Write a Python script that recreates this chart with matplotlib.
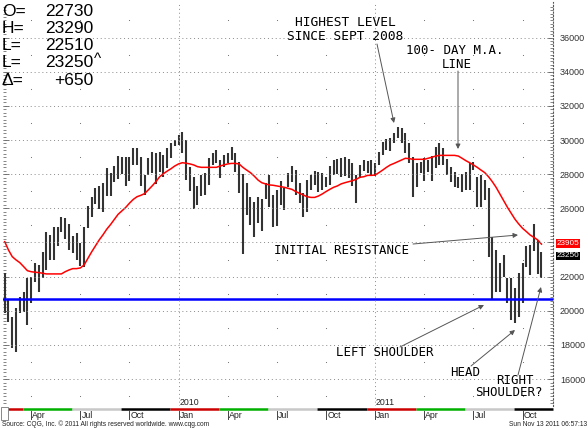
import numpy as np
import pandas as pd
import matplotlib
matplotlib.use('Agg')
import matplotlib.pyplot as plt
import matplotlib.dates as mdates
from matplotlib.transforms import blended_transform_factory
from matplotlib.patches import Rectangle

plt.rcParams['font.family'] = ['Liberation Sans', 'DejaVu Sans']

# weekly bars, first week 16 Feb 2009
week0 = '2009-02-16'
highs = [22200, 20670, 19620, 20190, 20830, 21080, 21900, 22000, 22780, 22680, 23460, 24630,
         24440, 24930, 24930, 25470, 25420, 25080, 24380, 24540, 23990, 24930, 26140, 26680,
         27170, 27310, 27500, 28340, 28050, 28480, 29060, 28990, 29020, 29020, 29510, 29510,
         29000, 27950, 28930, 29320, 29220, 29320, 29120, 29510, 29800, 30000, 30290, 30490, 30000,
         28440, 27850, 27310, 27950, 28050, 28930, 29260, 29420, 28830, 29120, 29220, 29570,
         29260, 28730, 28000, 27460, 26640, 26390, 26640, 26530, 27460, 27950, 26780, 27070,
         27620, 27170, 28090, 28480, 28240, 27500, 26880, 27660, 27950, 28200, 28150, 28050,
         27850, 28480, 28830, 28870, 28930, 28990, 28870, 28630, 27950, 28540, 28830, 28790, 28830,
         28630, 29320, 29900, 30040, 30100, 30430, 30780, 30680, 30390, 29800, 29020, 28630,
         28730, 28930, 28830, 29060, 29570, 29800, 29510, 28870, 28440, 28150, 27850, 28010, 28150,
         28630, 28730, 27850, 27950, 27660, 27170, 24340, 23560, 22780, 23270, 21900, 21900,
         21320, 22200, 22780, 23770, 23830, 25080, 24120, 23460]
lows = [19890, 19350, 17850, 17610, 19850, 19950, 19170, 20440, 21710, 21120, 21900, 22390,
        22980, 22980, 23800, 24630, 24190, 23560, 23370, 22980, 22620, 22590, 24830, 25510,
        26250, 25980, 25810, 26720, 26720, 27560, 27700, 28010, 27310, 27620, 28540, 28540,
        27300, 26780, 27950, 28090, 27430, 28150, 27850, 28340, 28930, 29650, 29710, 29260, 27660,
        27000, 25940, 26200, 26720, 26780, 27370, 28540, 28630, 27760, 28440, 28630, 28830,
        28150, 26880, 23330, 25610, 25030, 24340, 25120, 24690, 26530, 26100, 24930, 24970,
        26200, 25900, 27270, 27560, 26780, 26330, 25510, 25810, 27070, 27370, 26980, 27070,
        27230, 27370, 27950, 28010, 27850, 27890, 27760, 27310, 26330, 27760, 28200, 28090, 27930,
        27890, 28540, 29120, 29420, 29380, 29800, 30100, 29800, 29220, 28630, 26640, 27270,
        28050, 27620, 28150, 27620, 28340, 28540, 28540, 27950, 27560, 27270, 27170, 26980, 27070,
        27070, 28240, 26100, 26100, 26490, 23170, 20690, 21120, 21120, 22000, 20440, 19470,
        19270, 19660, 20440, 22560, 22100, 23500, 22150, 21900]
# 100-day moving average
ma100 = [24050, 23560, 23170, 22980, 22820, 22590, 22350, 22290, 22260, 22240, 22200, 22160,
         22160, 22160, 22160, 22160, 22290, 22390, 22470, 22470, 22510, 22680, 23070, 23450,
         23800, 24150, 24450, 24780, 25050, 25350, 25650, 25850, 26050, 26300, 26520, 26680,
         26760, 26860, 27080, 27310, 27560, 27850, 28030, 28180, 28320, 28480, 28600, 28670, 28640,
         28600, 28540, 28440, 28400, 28400, 28400, 28400, 28400, 28480, 28540, 28600, 28630,
         28630, 28600, 28400, 28240, 28090, 27890, 27660, 27500, 27430, 27370, 27350, 27310,
         27270, 27230, 27170, 27110, 26980, 26880, 26780, 26680, 26640, 26640, 26720, 26840,
         26980, 27110, 27230, 27310, 27430, 27500, 27560, 27620, 27700, 27820, 27850, 27930, 27930,
         27950, 28090, 28240, 28400, 28540, 28630, 28730, 28830, 28930, 28910, 28870, 28870,
         28870, 28870, 28930, 28990, 29060, 29100, 29100, 29100, 29100, 29100, 29060, 28930, 28790,
         28670, 28540, 28400, 28240, 28090, 27850, 27560, 27230, 26840, 26450, 26060, 25710,
         25360, 25080, 24830, 24640, 24440, 24300, 24150, 23905]
support = 20700
last_close = 23250
last_ma = 23905
header_names = ['O=', 'H=', 'L=', 'L=', 'Δ=']
header_values = ['22730', '23290', '22510', '23250', '+650']
price_ticks = list(range(16000, 38000, 2000))
month_names = {1: 'Jan', 4: 'Apr', 7: 'Jul', 10: 'Oct'}
band_colors = {1: '#cc0000', 4: '#00b000', 7: '#c8c8c8', 10: '#000000'}

W, H = 588, 428
fig = plt.figure(figsize=(W / 100, H / 100), dpi=100)
ax = fig.add_axes([3 / W, (H - 406) / H, 550 / W, 404 / H])

dates = pd.date_range(week0, periods=len(highs), freq='7D')
dnum = mdates.date2num(dates)

ax.vlines(dnum, lows, highs, color='#333333', lw=1.5)
ax.plot(dnum, ma100, color='#ff0000', lw=1.1)
ax.axhline(support, color='#0000ff', lw=1.8)

day_px = 7 / 3.78
ax.set_xlim(dnum[0] - 1.7 * day_px, dnum[0] + 548.3 * day_px)
ax.set_ylim(14428, 38079)

# grid
for v in price_ticks:
    ax.axhline(v, color='#8a8a8a', lw=0.7, ls=(0, (1, 3)))
qt = [d for k, d in enumerate(dnum) if dates[k].month in month_names
      and (k == 0 or dates[k - 1].month != dates[k].month)]
qmonths = [dates[k].month for k, d in enumerate(dnum) if d in qt]
for d, m in zip(qt, qmonths):
    if m == 1:
        ax.axvline(d, color='#8a8a8a', lw=0.7, ls=(0, (1, 3)))
    else:
        ax.scatter([d] * 12, range(15000, 39000, 2000), s=0.6, color='#666666', lw=0)

for s in ['top', 'bottom', 'left']:
    ax.spines[s].set_visible(False)
ax.spines['right'].set_linestyle((0, (1, 2)))
ax.spines['right'].set_color('#555555')
ax.spines['right'].set_linewidth(0.8)

ax.yaxis.tick_right()
# 24000 sits under the last-value tags, as in the source chart
ax.set_yticks(price_ticks, ['' if v == 24000 else str(v) for v in price_ticks])
ax.set_yticks(range(14600, 38000, 200), minor=True)
ax.tick_params(axis='y', which='both', left=True, right=True, labelleft=False, labelright=True,
               direction='in', colors='#555555', labelcolor='#333333', labelsize=6.5, pad=5)
ax.tick_params(axis='y', which='major', length=4, width=0.6)
ax.tick_params(axis='y', which='minor', length=2.5, width=0.5)
ax.set_xticks([])

# time band and labels
tr = blended_transform_factory(ax.transData, ax.transAxes)
bounds = [dnum[0] + 3 * day_px] + [d - 16 for d in qt] + [ax.get_xlim()[1]]
seg_months = [1] + qmonths
for k in range(len(bounds) - 1):
    ax.plot([bounds[k], bounds[k + 1]], [-0.0075, -0.0075], transform=tr, clip_on=False,
            color=band_colors[seg_months[k]], lw=1.8, solid_capstyle='butt')
for d, m in zip(qt, qmonths):
    ax.plot([d, d], [-0.012, -0.033], transform=tr, clip_on=False, color='#444444', lw=0.7)
    ax.text(d + 1.2 * day_px, -0.0225, month_names[m], transform=tr, fontsize=6.3,
            va='center', ha='left', color='#222222')
    if m == 1:
        ax.text(d + 0.8 * day_px, 0.008, str(dates[list(dnum).index(d)].year), transform=tr,
                fontsize=6.3, va='center', ha='left', color='#222222')

fig.patches.append(Rectangle((1 / W, (H - 420) / H), 7 / W, 13 / H, transform=fig.transFigure,
                             fill=False, ec='#888888', lw=0.7))

# last value tags
tr2 = blended_transform_factory(ax.transAxes, ax.transData)
ax.text(1.006, last_ma + 30, str(last_ma), transform=tr2, color='white', fontsize=5.9,
        va='center', bbox=dict(fc='#ff0000', ec='none', pad=0.5))
ax.text(1.006, last_close - 30, str(last_close), transform=tr2, color='white', fontsize=5.9,
        va='center', bbox=dict(fc='#000000', ec='none', pad=0.5))

# header box
for k, (n, v) in enumerate(zip(header_names, header_values)):
    yy = H - (11 + 17.3 * k)
    fig.text(2 / W, yy / H, n, fontsize=12.5, va='center', ha='left')
    fig.text(93 / W, yy / H, v, fontsize=12.5, va='center', ha='right')
fig.text(94 / W, (H - 59) / H, '^', fontsize=11, va='center', ha='left')

# annotations
mono = 'DejaVu Sans Mono'
def note(txt, x, y, size=8.9):
    fig.text(x / W, (H - y) / H, txt, fontsize=size, family=mono, ha='center', va='center',
             linespacing=1.1)

def arrow(x0, y0, x1, y1):
    ax.annotate('', xy=(x1, H - y1), xytext=(x0, H - y0), xycoords='figure pixels',
                textcoords='figure pixels',
                arrowprops=dict(arrowstyle='-|>', color='#555555', lw=0.7, mutation_scale=7,
                                shrinkA=0, shrinkB=0))

note('HIGHEST LEVEL', 345, 22, 9.3)
note('SINCE SEPT 2008', 345, 36, 9.3)
note('100- DAY M.A.', 455, 50)
note('LINE', 457, 64)
note('INITIAL RESISTANCE', 341, 250)
note('LEFT SHOULDER', 385, 353)
note('HEAD', 465, 372)
note('RIGHT', 515, 380)
note('SHOULDER?', 509, 393)

arrow(377, 44, 394, 123)
arrow(458, 71, 458, 149)
arrow(413, 244, 518, 235)
arrow(400, 347, 484, 305)
arrow(471, 366, 515, 330)
arrow(518, 375, 541, 287)

fig.text(2 / W, (H - 424) / H, 'Source: CQG, Inc. \u00a9 2011 All rights reserved worldwide. www.cqg.com',
         fontsize=4.8, va='center', ha='left', color='#222222')
fig.text(587 / W, (H - 424) / H, 'Sun Nov 13 2011 06:57:13', fontsize=4.8, va='center',
         ha='right', color='#222222')

fig.savefig('out.png', dpi=100, facecolor='white')
